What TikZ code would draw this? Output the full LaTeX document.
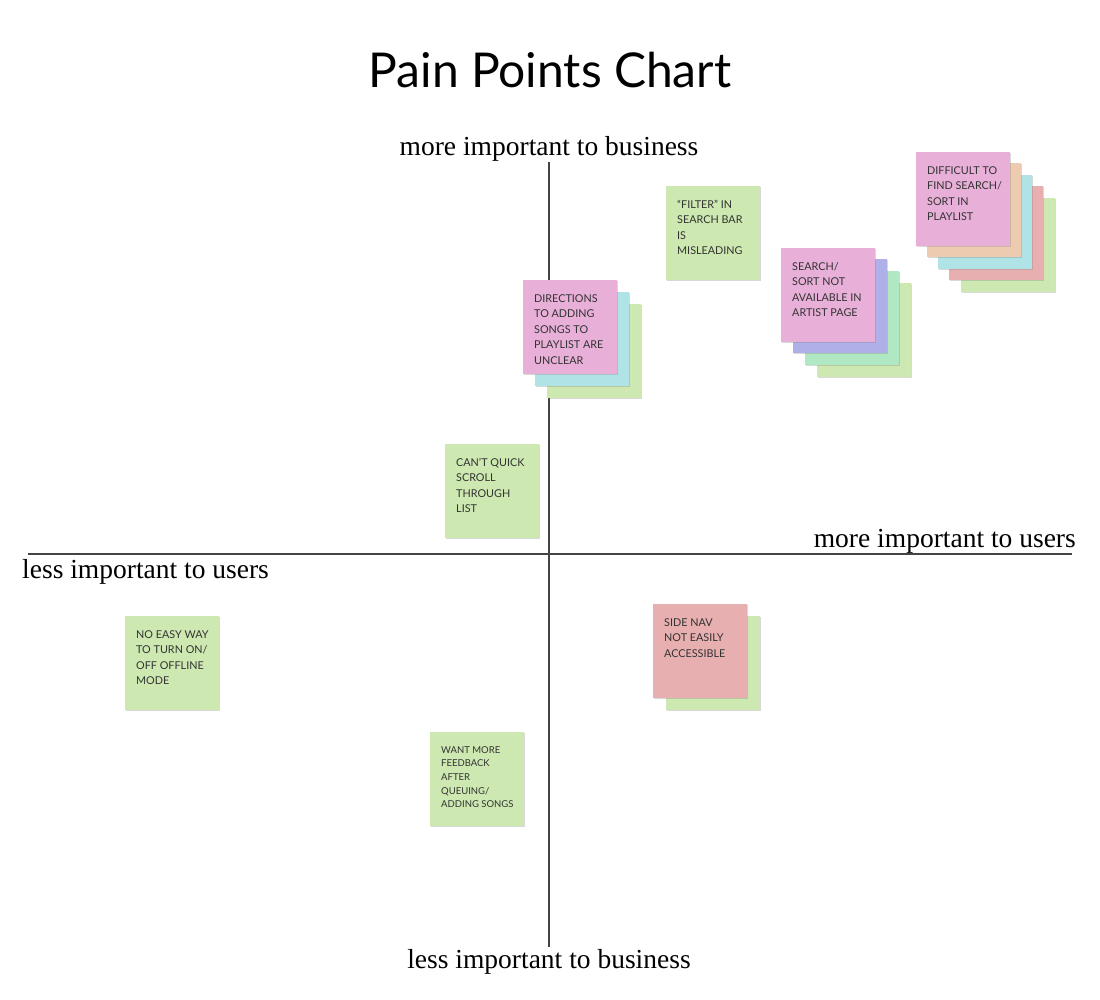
\documentclass[tikz,border=0pt]{standalone}
\usepackage{fontspec}
\setmainfont{Liberation Serif}
\newfontfamily\latofont{Lato}
\usetikzlibrary{shadows}
\definecolor{npink}{HTML}{E8B0D8}
\definecolor{npeach}{HTML}{EDCBB0}
\definecolor{ncyan}{HTML}{B0E3E6}
\definecolor{nred}{HTML}{E8AFB0}
\definecolor{ngreen}{HTML}{CDE8B0}
\definecolor{npurple}{HTML}{B0B0E8}
\definecolor{nmint}{HTML}{B0E8C4}
\definecolor{notetextcol}{HTML}{333333}
\definecolor{axiscol}{HTML}{444444}
\tikzset{
  notebox/.style={draw=none, fill=#1, minimum width=94pt, minimum height=94pt, inner sep=0pt, outer sep=0pt, anchor=north west,
    drop shadow={opacity=0.3, shadow xshift=0.8pt, shadow yshift=-1.2pt}},
  notetext/.style={anchor=north west, inner sep=0pt, align=left, text=notetextcol, font=\latofont\fontsize{10.8}{15.5}\selectfont},
  smalltext/.style={notetext, font=\latofont\fontsize{9.5}{13.7}\selectfont},
  axislabel/.style={font=\fontsize{27.5}{32}\selectfont, text=black, inner sep=0pt},
  axisline/.style={draw=axiscol, line width=1.2pt}
}
\newcommand\stickynote[4]{\node[notebox=#4] (#1) at (#2,#3) {};}
\newcommand\notelabel[3][notetext]{\node[#1] (#2t) at ([xshift=11pt,yshift=-14pt]#2.north west) {#3};}
\begin{document}
\begin{tikzpicture}[x=1pt,y=-1pt]
\useasboundingbox[fill=white] (0,0) rectangle (1100,1000);
% axes
\coordinate (vtop) at (549,162);
\coordinate (vbot) at (549,947);
\coordinate (hleft) at (28,554);
\coordinate (hright) at (1072,554);
\draw[axisline] (vtop) -- (vbot);
\draw[axisline] (hleft) -- (hright);
% title and axis labels
\node[font=\latofont\fontsize{48}{54}\selectfont, inner sep=0pt] (title) at (550,70) {Pain Points Chart};
\node[axislabel] (mb) at (549,149) {more important to business};
\node[axislabel] (lb) at (549,962) {less important to business};
\node[axislabel, anchor=east] (mu) at (1076,541) {more important to users};
\node[axislabel, anchor=west] (lu) at (22,572) {less important to users};
% stack 1
\stickynote{s1e}{961}{198}{ngreen}
\stickynote{s1d}{949}{186}{nred}
\stickynote{s1c}{938}{175}{ncyan}
\stickynote{s1b}{927}{163}{npeach}
\stickynote{s1a}{916}{152}{npink}
\notelabel{s1a}{DIFFICULT TO\\FIND SEARCH/\\SORT IN\\PLAYLIST}
% stack 2
\stickynote{s2d}{817}{283}{ngreen}
\stickynote{s2c}{805}{271}{nmint}
\stickynote{s2b}{793}{259}{npurple}
\stickynote{s2a}{781}{248}{npink}
\notelabel{s2a}{SEARCH/\\SORT NOT\\AVAILABLE IN\\ARTIST PAGE}
% filter
\stickynote{f}{666}{186}{ngreen}
\notelabel{f}{“FILTER” IN\\SEARCH BAR\\IS\\MISLEADING}
% stack 3
\stickynote{s3c}{547}{304}{ngreen}
\stickynote{s3b}{535}{292}{ncyan}
\stickynote{s3a}{523}{280}{npink}
\notelabel{s3a}{DIRECTIONS\\TO ADDING\\SONGS TO\\PLAYLIST ARE\\UNCLEAR}
% can't quick scroll
\stickynote{cq}{445}{444}{ngreen}
\notelabel{cq}{CAN’T QUICK\\SCROLL\\THROUGH\\LIST}
% side nav
\stickynote{snb}{666}{616}{ngreen}
\stickynote{sna}{653}{604}{nred}
\notelabel{sna}{SIDE NAV\\NOT EASILY\\ACCESSIBLE}
% no easy way
\stickynote{ne}{125}{616}{ngreen}
\notelabel{ne}{NO EASY WAY\\TO TURN ON/\\OFF OFFLINE\\MODE}
% want more
\stickynote{wm}{430}{732}{ngreen}
\notelabel[smalltext]{wm}{WANT MORE\\FEEDBACK\\AFTER\\QUEUING/\\ADDING SONGS}
\end{tikzpicture}
\end{document}
